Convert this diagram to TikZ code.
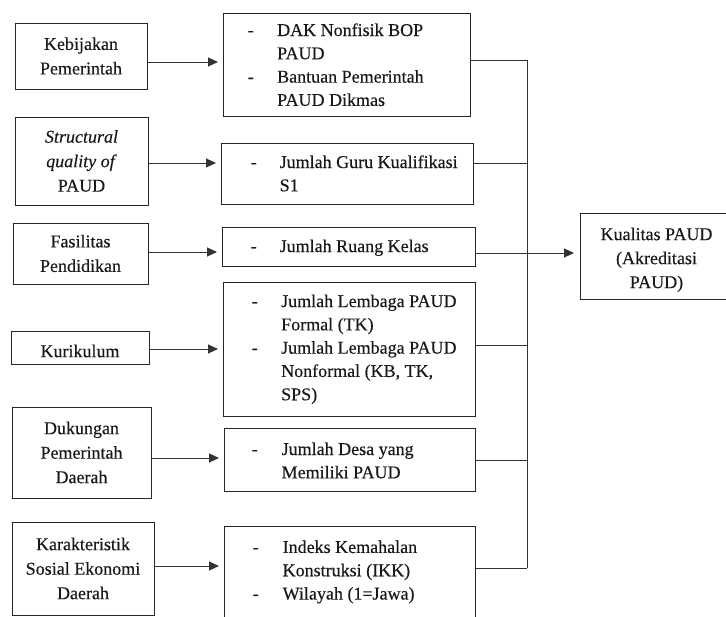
\documentclass[tikz,border=0pt]{standalone}
\usepackage{fontspec}
\setmainfont{Liberation Serif}[FakeBold=0.35]
\usetikzlibrary{arrows.meta}
\begin{document}
\begin{tikzpicture}[x=1pt,y=-1pt,
  lbox/.style={draw=black!85, line width=0.9pt, inner sep=0pt, align=center,
    text=black!90, font=\fontsize{18}{24.5}\selectfont},
  mbox/.style={draw=black!85, line width=0.9pt, inner sep=0pt, anchor=north west},
  ltext/.style={inner sep=0pt, align=center, text=black!90, font=\fontsize{18}{24}\selectfont},
  mtext/.style={anchor=west, inner sep=0pt, text=black!90, font=\fontsize{18}{23.3}\selectfont},
  conn/.style={draw=black!80, line width=0.9pt},
  arr/.style={conn, -{Triangle[length=10pt,width=9pt]}, shorten >=5pt}
]
\useasboundingbox (0,0) rectangle (726,617);
\clip (0,0) rectangle (726,617);

% left boxes
\node[lbox, minimum width=132pt, minimum height=66pt] (l1) at (81,56) {Kebijakan\\Pemerintah};
\node[lbox, minimum width=133pt, minimum height=88pt] (l2) at (81.5,161) {\textit{Structural}\\\textit{quality of}\\PAUD};
\node[lbox, minimum width=135pt, minimum height=61pt] (l3) at (80.5,253.5) {Fasilitas\\Pendidikan};
\node[lbox, minimum width=138pt, minimum height=33pt] (l4) at (80,347.5) {};
\node[ltext] (l4t) at (80,351) {Kurikulum};
\node[lbox, minimum width=139pt, minimum height=91pt] (l5) at (81.5,452.5) {Dukungan\\Pemerintah\\Daerah};
\node[lbox, minimum width=142pt, minimum height=93pt] (l6) at (83,568.5) {Karakteristik\\Sosial Ekonomi\\Daerah};

% middle boxes
\node[mbox, minimum width=247pt, minimum height=103pt] (m1) at (223,13) {};
\node[mbox, minimum width=252pt, minimum height=61pt] (m2) at (221,143) {};
\node[mbox, minimum width=253pt, minimum height=39pt] (m3) at (222,227) {};
\node[mbox, minimum width=252pt, minimum height=134pt] (m4) at (223,282) {};
\node[mbox, minimum width=251pt, minimum height=63pt] (m5) at (224,428) {};
\node[mbox, minimum width=251pt, minimum height=100pt] (m6) at (224,526) {};

\node[mtext] (m1t) at (247.5,66.3) {\begin{tabular}{@{}p{29.5pt}@{}l@{}}
-&DAK Nonfisik BOP\\
&PAUD\\
-&Bantuan Pemerintah\\
&PAUD Dikmas
\end{tabular}};
\node[mtext] (m2t) at (250.5,175) {\begin{tabular}{@{}p{29pt}@{}l@{}}
-&Jumlah Guru Kualifikasi\\
&S1
\end{tabular}};
\node[mtext] (m3t) at (250.5,247.4) {\begin{tabular}{@{}p{29pt}@{}l@{}}
-&Jumlah Ruang Kelas
\end{tabular}};
\node[mtext] (m4t) at (251.5,349) {\begin{tabular}{@{}p{29.5pt}@{}l@{}}
-&Jumlah Lembaga PAUD\\
&Formal (TK)\\
-&Jumlah Lembaga PAUD\\
&Nonformal (KB, TK,\\
&SPS)
\end{tabular}};
\node[mtext] (m5t) at (251.5,462) {\begin{tabular}{@{}p{30pt}@{}l@{}}
-&Jumlah Desa yang\\
&Memiliki PAUD
\end{tabular}};
\node[mtext] (m6t) at (252.5,571.6) {\begin{tabular}{@{}p{30pt}@{}l@{}}
-&Indeks Kemahalan\\
&Konstruksi (IKK)\\
-&Wilayah (1=Jawa)
\end{tabular}};

% result box
\node[mbox, minimum width=153pt, minimum height=86pt] (kual) at (580,213) {};
\node[ltext] (kualt) at (656.5,259.8) {Kualitas PAUD\\(Akreditasi\\PAUD)};

% levels
\coordinate (a1) at (0,62);
\coordinate (a2) at (0,163);
\coordinate (a3) at (0,252);
\coordinate (a4) at (0,349);
\coordinate (a5) at (0,458);
\coordinate (a6) at (0,566);
\coordinate (b1) at (527,60);
\coordinate (b2) at (527,163);
\coordinate (b3) at (527,253);
\coordinate (b4) at (527,345);
\coordinate (b5) at (527,460);
\coordinate (b6) at (527,568);

% left arrows
\draw[arr] (l1.east |- a1) -- (m1.west |- a1);
\draw[arr] (l2.east |- a2) -- (m2.west |- a2);
\draw[arr] (l3.east |- a3) -- (m3.west |- a3);
\draw[arr] (l4.east |- a4) -- (m4.west |- a4);
\draw[arr] (l5.east |- a5) -- (m5.west |- a5);
\draw[arr] (l6.east |- a6) -- (m6.west |- a6);

% right bus
\draw[conn] (m1.east |- b1) -- (b1);
\draw[conn] (m2.east |- b2) -- (b2);
\draw[conn] (m4.east |- b4) -- (b4);
\draw[conn] (m5.east |- b5) -- (b5);
\draw[conn] (m6.east |- b6) -- (b6);
\draw[conn] (b1) -- (b6);
\draw[arr, shorten >=6pt] (m3.east |- b3) -- (kual.west |- b3);
\end{tikzpicture}
\end{document}
